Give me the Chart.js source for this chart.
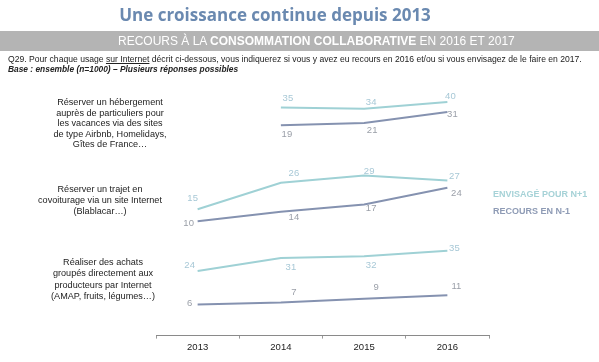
<!DOCTYPE html>
<html>
<head>
<meta charset="utf-8">
<script src="https://cdn.jsdelivr.net/npm/chart.js@4.4.1/dist/chart.umd.min.js"></script>
<style>
  html, body { margin:0; padding:0; background:#fff; }
  #wrap { position:relative; width:599px; height:362px; overflow:hidden; font-family:"Liberation Sans", Arial, sans-serif; }
  #c { position:absolute; left:0; top:0; }
  .abs { position:absolute; white-space:nowrap; }
  #title { left:-50px; width:650px; top:3px; text-align:center; font-family:"Open Sans", sans-serif; font-weight:bold; font-size:17px; color:#6a89b0; }
  #banner { left:0; top:31px; width:599px; height:20px; background:#b4b4b4; color:#fff; font-size:12px; line-height:20px; }
  #banner span { position:absolute; left:118px; }
  #q { left:8px; top:54px; font-size:8.6px; color:#222; }
  #base { left:8px; top:64px; font-size:8.4px; color:#222; font-style:italic; font-weight:bold; }
  .cat { text-align:center; font-size:9.1px; color:#222; }
  .leg { font-size:9px; font-weight:bold; }
</style>
</head>
<body>
<div id="wrap">
  <canvas id="c" width="599" height="362"></canvas>
  <div class="abs" id="title">Une croissance continue depuis 2013</div>
  <div class="abs" id="banner"><span>RECOURS À LA <b>CONSOMMATION COLLABORATIVE</b> EN 2016 ET 2017</span></div>
  <div class="abs" id="q">Q29. Pour chaque usage <u>sur Internet</u> décrit ci-dessous, vous indiquerez si vous y avez eu recours en 2016 et/ou si vous envisagez de le faire en 2017.</div>
  <div class="abs" id="base">Base : ensemble (n=1000) – Plusieurs réponses possibles</div>
  <div class="abs cat" style="left:40px;width:140px;top:97px;line-height:10.5px;">Réserver un hébergement<br>auprès de particuliers pour<br>les vacances via des sites<br>de type Airbnb, Homelidays,<br>Gîtes de France…</div>
  <div class="abs cat" style="left:30px;width:140px;top:184px;line-height:11px;">Réserver un trajet en<br>covoiturage via un site Internet<br>(Blablacar…)</div>
  <div class="abs cat" style="left:33px;width:140px;top:257px;line-height:11.3px;">Réaliser des achats<br>groupés directement aux<br>producteurs par Internet<br>(AMAP, fruits, légumes…)</div>
  <div class="abs leg" style="left:493px;top:189px;color:#a6d2d7;">ENVISAGÉ POUR N+1</div>
  <div class="abs leg" style="left:493px;top:206px;color:#8e9bb5;">RECOURS EN N-1</div>
</div>
<script>
const years = ['2013', '2014', '2015', '2016'];
// Hébergement (Airbnb...)
const hebergEnvisage = [null, 35, 34, 40];
const hebergRecours  = [null, 19, 21, 31];
// Covoiturage (Blablacar)
const covoitEnvisage = [15, 26, 29, 27];
const covoitRecours  = [10, 14, 17, 24];
// Achats groupés producteurs
const achatsEnvisage = [24, 31, 32, 35];
const achatsRecours  = [6, 7, 9, 11];

const colEnv = '#9fd1d5';
const colRec = '#8592b0';
const lblEnv = '#a7c8d6';
const lblRec = '#9a9fa8';

// label offsets (style only)
const offs = [
  [[0,0],[7,-9],[7,-6],[3,-6]],
  [[0,0],[6,9],[8,7],[5,2]],
  [[-5,-11],[13,-9],[5,-4],[7,-4]],
  [[-9,2],[13,6],[7,4],[9,6]],
  [[-8,-6],[10,9],[7,9],[7,-2]],
  [[-8,-1],[13,-10],[12,-11],[9,-9]]
];

const labelPlugin = {
  id: 'pointLabels',
  afterDatasetsDraw(chart) {
    const ctx = chart.ctx;
    ctx.save();
    ctx.font = '9.5px "Liberation Sans", Arial, sans-serif';
    ctx.textAlign = 'center';
    ctx.textBaseline = 'middle';
    chart.data.datasets.forEach((ds, i) => {
      const meta = chart.getDatasetMeta(i);
      ctx.fillStyle = ds.labelColor;
      meta.data.forEach((pt, j) => {
        const v = ds.data[j];
        if (v === null || v === undefined) return;
        const o = offs[i][j];
        ctx.fillText(String(v), pt.x + o[0], pt.y + o[1]);
      });
    });
    ctx.restore();
  }
};

function ds(data, color, lcol, axis) {
  return { data, borderColor: color, backgroundColor: color, borderWidth: 2, pointRadius: 0,
           tension: 0, labelColor: lcol, yAxisID: axis, spanGaps: false };
}

new Chart(document.getElementById('c'), {
  type: 'line',
  data: {
    labels: years,
    datasets: [
      ds(hebergEnvisage, colEnv, lblEnv, 'y1'),
      ds(hebergRecours, colRec, lblRec, 'y1'),
      ds(covoitEnvisage, colEnv, lblEnv, 'y2'),
      ds(covoitRecours, colRec, lblRec, 'y2'),
      ds(achatsEnvisage, colEnv, lblEnv, 'y3'),
      ds(achatsRecours, colRec, lblRec, 'y3')
    ]
  },
  options: {
    responsive: false,
    animation: false,
    layout: { padding: { left: 156, right: 110, top: 80, bottom: 6 } },
    plugins: { legend: { display: false }, tooltip: { enabled: false } },
    scales: {
      x: {
        offset: true,
        grid: { display: true, drawOnChartArea: false, drawTicks: true, offset: true, tickLength: 3, color: '#999' },
        border: { display: true, color: '#8a8a8a', width: 1 },
        ticks: { color: '#222', font: { size: 9.5, family: '"Liberation Sans", Arial, sans-serif' }, padding: 3 }
      },
      y1: { display: false, min: -171.82, max: 60 },
      y2: { display: false, min: -37.5, max: 68.75 },
      y3: { display: false, min: -10.81, max: 127.03 }
    }
  },
  plugins: [labelPlugin]
});
</script>
</body>
</html>
